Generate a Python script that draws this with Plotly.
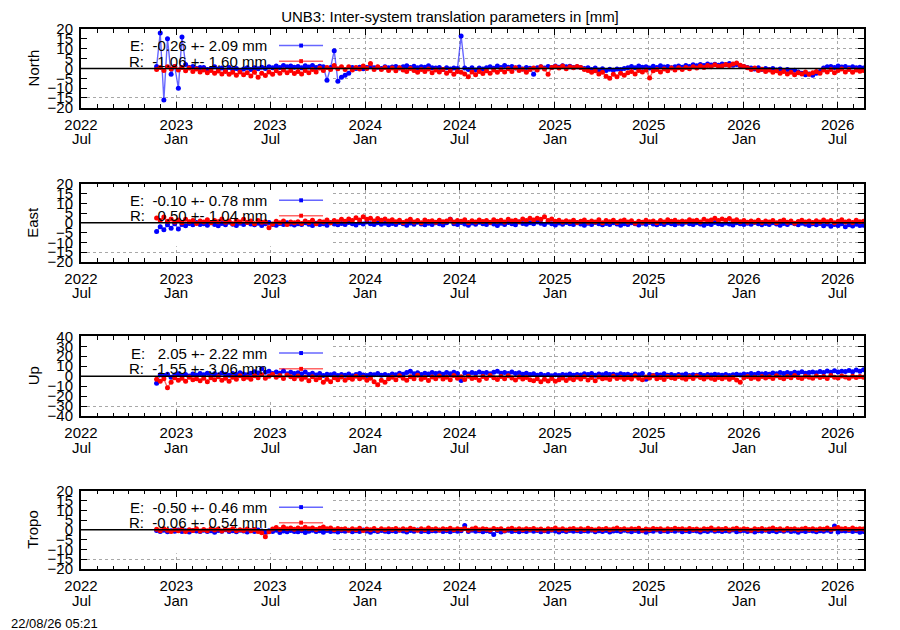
import pandas as pd
import plotly.graph_objects as go

# weekly samples (mm)
dates = pd.date_range("2022-11-24", periods=196, freq="7D")

north_e = [
    1, 18, -16, 15, -3, 1, -10, 16, 2, 0.5, 1, 0, 0.5,
    0.5, -0.5, 0, 0.8, -0.3, 0.2, -0.8, 0.5, -0.5, 0, -1, -0.3, 0.4,
    -0.5, 0.3, -0.2, 0.6, 0, 0.8, 0.3, 1.2, 0.5, 1.5, 0.8, 1.2, 0.6,
    1.0, 0.4, 1.3, 0.7, 1.5, 0.5, 1.1, 0.8, -6, 0.5, 9, -6.5, -4.5,
    -3.5, -2.5, 0.5, 0, 0.6, -0.2, 0.5, 0.8, 0.3, 0.6, 0, 0.9, 0.4,
    0.7, 1.0, 0.2, 0.8, 1.3, 0.5, 1.1, 0.3, 0.9, 0.6, 1.4, 0.4, 0.2,
    0.5, -0.5, 0.3, -0.3, 0.2, 0, 16.5, 0.2, -0.5, 0.4, -0.8, 0.2, -0.3,
    0.3, 0.8, 0.1, 1.2, 0.5, 1.5, 0.6, 1.0, 0.2, 0.7, -0.3, 0.5, 0.1,
    -3, 0.4, 0.8, 0.2, 1.0, 0.5, 1.2, 0.6, 1.4, 0.8, 1.1, 0.5, 0.9,
    0.5, 0, 0.3, -0.5, 0.2, -0.8, -0.2, -1.0, -0.4, -0.9, -0.3, -0.6, 0,
    0.4, 1.0, 0.3, 1.2, 0.6, 0.9, 0.2, 1.1, 0.5, 1.3, 0.7, 1.0, 0.4,
    0.8, 1.2, 0.6, 1.5, 1.0, 1.8, 1.3, 2.0, 1.5, 2.3, 1.7, 2.1, 1.6,
    2.2, 1.8, 2.5, 1.6, 2.0, 1.4, 1.0, 0.5, 0.2, -0.3, 0.3, -0.5, 0,
    -0.5, 0, -0.8, -0.3, -1.0, -0.6, -1.2, -0.9, -1.8, -2.5, -3.2, -2.8, -3.5,
    -2.5, -1.5, 0.2, 0.8, 1.0, 0.5, 1.2, 0.7, 1.0, 0.4, 0.9, 0.3, 0.6,
    0.2,
]
north_r = [
    -0.5, 0.5, -1, 0.8, -0.3, 1.0, -0.8, 0.5, -1.2, 0.2, -1.5, -0.3, -1.8,
    -0.8, -2.2, -1.0, -2.5, -1.3, -2.8, -1.5, -3.0, -2.0, -3.5, -1.8, -3.2, -2.2,
    -3.8, -2.0, -4.5, -2.5, -3.6, -1.8, -3.0, -1.2, -2.5, -0.8, -2.2, -1.0, -2.6,
    -1.5, -2.8, -1.0, -2.2, -0.5, -1.8, 0.2, -1.0, 0.5, -0.5, 1.5, -0.2, 0.8,
    -0.5, 0.8, -0.8, 0.5, -0.3, 1.2, 0, 2.5, -0.5, 0.8, -0.6, 0.5, -1.0,
    0.2, -1.2, 0.4, -0.8, -1.5, 0, -1.0, -2.0, -0.5, -1.5, -0.3, -2.2, -0.8,
    -1.8, -0.6, -2.5, -1.2, -3.0, -1.5, -2.0, -2.8, -4.2, -1.8, -3.2, -1.5, -2.6,
    -1.2, -2.4, -0.8, -2.0, -0.5, -1.8, -0.2, -1.5, 0.3, -1.0, -0.4, -2.0, -0.6,
    0.2, -0.8, 0.8, -0.3, -3.0, 0.5, 1.0, 0.2, 1.2, -0.2, 0.8, 0.3, 1.0,
    0.5, -0.5, -1.0, -2.0, -1.2, -2.8, -2.0, -4.0, -5.0, -3.0, -4.2, -2.5, -3.5,
    -2.2, -1.5, -2.8, -1.0, -1.8, -0.8, -4.8, -1.2, -0.5, -1.8, -0.3, -1.2, 0.2,
    -0.8, 0.3, -0.5, 0.5, -0.2, 0.8, 0.2, 1.2, 0.5, 1.5, 0.8, 1.8, 1.0,
    1.2, 2.0, 1.5, 2.2, 2.8, 1.6, 1.0, 0.3, -0.5, 0.2, -1.0, -0.4, -1.5,
    -0.8, -2.0, -1.2, -2.5, -1.6, -2.8, -2.0, -3.2, -2.2, -2.8, -1.8, -3.0, -2.2,
    -1.5, -2.5, -0.8, -1.8, -0.5, -2.2, -1.0, -0.3, -1.8, -0.6, -2.0, -0.8, -1.4,
    -1.0,
]

east_e = [
    -4.5, -2.0, -3.5, -1.0, -2.8, -0.5, -3.2, -0.8, -1.5, -0.3, -1.0, 0.2, -0.8,
    -0.5, -1.2, 0, -0.8, -1.5, -0.3, -1.0, 0.3, -0.7, -1.3, -0.2, -0.9, 0.2,
    -0.6, -1.0, -0.2, -1.4, -0.5, 0.2, -0.8, -1.2, -0.3, -0.9, 0.1, -0.6, -1.1,
    -0.4, -0.9, 0, -0.7, -1.3, -0.2, -0.8, -0.5, -1.2, 0.1, -0.6, -1.0, -0.3,
    -0.8, 0.2, -0.5, -1.1, 0, -0.6, 0.4, -0.4, -0.9, 0.1, -0.7, -0.2, -1.0,
    -0.3, -0.8, 0.2, -0.5, -1.2, -0.1, -0.7, 0.3, -0.6, -1.0, -0.2, -0.8, 0.1,
    -0.5, -1.1, 0, 1.8, -0.4, -0.9, 0.2, -0.6, -1.2, -0.1, -0.7, 0.3, -0.5,
    -0.9, 0, -0.6, -1.3, -0.2, -0.8, 0.2, -0.5, -1.0, 0.4, -0.3, -0.7, 0.1,
    -0.4, 0.5, -0.2, -0.8, 0.3, -0.5, -1.1, -0.1, -0.7, 0.2, -0.4, -0.9, 0,
    -0.6, -1.2, -0.2, -0.8, 0.2, -0.5, -1.0, -0.3, -0.9, 0.1, -0.6, -1.2, -0.4,
    -0.8, 0, -0.5, -1.1, -0.2, -0.7, 0.2, -0.6, -1.0, -0.3, -0.8, 0.1, -0.5,
    -1.0, -0.2, -0.7, 0.3, -0.4, -0.9, 0, -0.6, -1.2, -0.3, -0.8, 0.2, -0.5,
    -0.9, -0.1, -0.6, -1.1, 0.1, -0.5, -0.9, -0.2, -0.7, 0.2, -0.4, -1.0, -0.3,
    -0.8, 0, -0.6, -1.2, -0.3, -0.9, 0.1, -0.5, -1.0, -0.2, -0.7, -1.3, -0.4,
    -1.0, -0.3, -1.5, -0.6, -1.8, -0.8, -1.3, -0.5, -2.0, -1.0, -1.6, -0.7, -1.4,
    -1.2,
]
east_r = [
    2.5, 1.2, 3.0, 0.8, 2.0, 0.5, 1.5, 0, 1.8, 0.6, 1.2, -0.3, 1.0,
    0.4, 1.6, 0, 1.2, 0.6, 2.0, 0.3, 1.0, -0.4, 1.4, 0.5, 1.8, 0.2,
    0.9, -0.5, 1.2, 0.3, 0.6, -2.5, -0.6, 0.8, 0.1, 1.0, -0.8, 0.5, 0,
    0.6, -0.3, 1.0, 0.2, 1.3, -0.4, 0.8, 0.4, 1.5, 0, 1.2, 0.6, 1.8,
    0.8, 2.0, 1.2, 2.6, 1.5, 3.2, 1.8, 2.4, 1.0, 2.2, 1.4, 2.0, 0.9,
    1.6, 0.6, 1.3, 0.2, 1.0, 1.8, 0.5, 1.2, 0, 1.5, 0.7, 1.1, 0.3,
    1.4, 0.6, 1.0, 1.9, 0.4, 1.2, 0.8, 1.6, 0.2, 1.1, 0.5, 1.5, 0.7,
    1.2, 0.3, 1.6, 0.8, 1.3, 0.4, 1.8, 1.0, 1.4, 0.6, 2.0, 1.2, 2.4,
    1.5, 2.4, 1.8, 3.2, 1.2, 2.0, 0.8, 1.4, 0.4, 1.1, 0.6, 1.3, 0.2,
    0.8, 1.5, 0.3, 1.0, 0.5, 1.6, 0, 1.2, 0.6, 1.4, 0.2, 0.9, 1.5,
    0.4, 1.1, -0.2, 0.8, 0.3, 1.3, 0.6, 1.0, 0, 1.2, 0.5, 1.6, 0.8,
    1.3, 0.4, 1.0, 0.6, 1.6, 0.9, 1.4, 0.5, 1.8, 1.0, 1.5, 2.4, 1.2,
    2.0, 1.3, 2.2, 1.0, 1.6, 0.6, 1.2, 0.3, 1.0, 0.5, 1.4, 0.2, 0.9,
    0.5, 1.2, 0, 0.8, 1.5, 0.3, 1.0, -0.2, 0.7, 1.3, 0.4, 1.0, 0.2,
    1.1, 0.4, 1.5, 0.6, 1.2, 0, 0.8, 1.6, 0.5, 1.0, 0.2, 1.3, 0.6,
    0.8,
]

up_e = [
    -7.0, 1.5, 0, 2.0, -1.0, 1.2, 2.5, 0.5, 1.8, 0.2, 2.2, 1.0, 2.8,
    1.5, 3.0, 0.8, 2.4, 1.2, 3.2, 2.0, 1.0, 2.8, 1.6, 3.4, 2.2, 1.4,
    3.0, 4.5, 3.2, 7.5, 4.0, 5.0, 2.6, 4.2, 3.0, 5.2, 2.4, 4.0, 2.8,
    3.5, 2.2, 4.2, 1.8, 3.0, 1.2, 2.6, 0.8, 2.0, 1.4, 2.4, 0.6, 1.8,
    1.0, 2.2, 0.4, 1.6, 2.6, 1.2, 0.6, 2.0, 1.4, 2.8, 1.0, 1.8, 0.8,
    2.2, 1.4, 3.0, 2.0, 3.6, 5.0, 2.4, 3.4, 1.8, 3.0, 2.2, 3.8, 2.6,
    3.2, 2.0, 3.6, 2.4, 4.0, 2.8, -4.3, 3.4, 2.2, 3.8, 2.6, 4.2, 3.0,
    3.6, 2.4, 4.0, 5.0, 3.0, 3.8, 2.6, 4.2, 2.8, 3.4, 2.0, 3.0, 1.6,
    2.4, 1.0, 2.0, 0.6, 1.6, 0.4, 1.4, 0.8, 1.8, 1.2, 2.2, 1.0, 1.8,
    1.2, 2.4, 1.6, 2.8, 1.0, 2.2, 1.4, 2.6, 1.8, 2.0, 1.2, 2.4, 1.6,
    2.0, 1.0, 2.2, 1.4, 2.6, -3.0, 1.6, 0.8, 1.8, 1.2, 2.4, 1.0, 1.6,
    0.8, 1.8, 1.2, 2.2, 0.6, 1.4, 1.0, 2.0, 0.8, 1.6, 1.2, 2.0, 1.4,
    1.0, 1.8, 0.6, 1.4, 2.0, 1.2, 2.2, 1.6, 2.6, 1.8, 3.0, 2.2, 2.8,
    2.0, 3.2, 2.4, 3.6, 2.6, 3.8, 2.8, 4.0, 3.2, 4.4, 3.0, 3.8, 4.2,
    3.4, 4.6, 3.8, 5.2, 4.0, 5.6, 4.2, 5.0, 4.6, 5.8, 4.4, 6.2, 5.0,
    6.5,
]
up_r = [
    -3.0, -5.0, -2.5, -11.5, -6.0, -1.5, -4.0, -2.0, -5.0, -1.0, -3.5, -2.5, -4.5,
    -2.0, -5.5, -1.5, -3.5, -0.5, -4.0, -2.0, -5.0, -1.0, -3.0, 0.5, -2.5, -1.0,
    -3.0, 0.5, -1.5, 1.5, -2.0, 0, 2.0, -1.0, 0.8, -2.2, 1.2, -0.5, -2.5,
    0.2, -3.0, -1.0, -4.5, -0.5, -3.5, -1.5, -6.0, -3.0, -5.5, -1.5, -3.5, -0.8,
    -4.0, -1.5, -3.0, 0, -2.5, -1.0, -4.0, -2.0, -5.5, -8.5, -4.0, -6.0, -2.5,
    -1.0, -3.5, 0.5, -2.0, -4.0, -0.5, -2.5, 1.0, -3.0, -1.2, -4.2, -0.8, -2.6,
    0.2, -2.8, -1.0, -3.6, 0.8, -2.0, -0.6, -3.2, 0, -2.4, -1.2, -4.0, -0.4,
    -2.2, 0.6, -1.6, -3.4, -0.2, -2.6, 0.4, -1.8, -3.8, -0.8, -2.8, -1.2, -3.5,
    -4.5, -2.5, -5.5, -3.0, -4.8, -2.2, -5.0, -3.5, -1.8, -4.2, -2.0, -3.6, -1.0,
    -2.8, -0.6, -3.8, -1.4, -4.5, -0.8, -2.6, -1.8, -3.4, 0, -2.2, -1.0, -3.0,
    -1.4, -2.8, 0.2, -2.0, -3.6, -0.8, -1.8, 0.4, -2.6, -1.2, -3.2, -0.4, -1.6,
    -2.4, -0.2, -1.8, -3.0, -0.6, -2.2, 0.2, -1.4, -2.8, -0.8, -2.0, -3.4, -1.2,
    -2.6, -1.0, -3.0, -1.2, -3.8, -6.0, -1.6, -0.4, -2.4, -1.0, -2.8, -0.2, -1.8,
    -0.6, -2.2, 0.4, -1.4, -2.6, -0.2, -1.6, 0.6, -1.2, -2.4, 0, -1.0, -2.0,
    0.2, -1.4, -0.4, -2.2, 0.6, -1.0, -1.8, 0.3, -0.8, -2.0, 0, -1.2, -0.4,
    -1.0,
]

tropo_e = [
    -0.3, -0.8, -0.2, -1.0, -0.5, -0.7, -0.1, -0.9, -0.4, -1.1, -0.3, -0.6, -0.8,
    -0.2, -0.9, -0.5, -1.2, -0.3, -0.7, 0, -0.8, -0.5, -1.0, -0.2, -0.6, -1.1,
    -0.4, -0.8, -0.1, -0.6, -1.2, -0.5, -0.9, -0.2, -1.4, -0.6, -1.0, -0.3, -0.8,
    -1.0, -0.4, -1.3, -0.7, -0.2, -0.9, -0.5, -1.2, -0.3, -0.8, -0.6, -1.1, -0.4,
    -0.7, -0.2, -1.0, -0.5, -0.9, -0.1, -0.6, -1.2, -0.4, -0.8, -0.3, -0.7, -1.0,
    -0.4, -0.8, -0.2, -0.6, -1.1, -0.3, -0.7, -0.1, -0.9, -0.5, -1.0, -0.4, -0.6,
    -0.2, -0.8, -0.5, -1.0, -0.3, -0.7, -0.4, 2.2, -0.9, -0.2, -0.7, -0.4, -1.0,
    -0.5, -0.8, -2.4, -0.3, -1.1, -0.6, -0.2, -0.9, -0.4, -1.0, -0.5, -0.8, -0.2,
    -0.7, -0.3, -1.0, -0.5, -0.8, -0.2, -0.6, -1.1, -0.4, -0.9, -0.3, -0.7, -0.5,
    -0.9, -0.4, -0.7, -0.2, -1.0, -0.5, -0.8, -0.3, -1.1, -0.6, -0.4, -0.9, -0.2,
    -0.6, -1.0, -0.3, -0.8, -0.5, -1.2, -0.4, -0.7, -0.1, -0.9, -0.5, -0.8, -0.3,
    -0.7, -0.2, -1.0, -0.5, -0.8, -0.3, -0.6, -1.1, -0.4, -0.9, -0.2, -0.7, -0.5,
    -0.9, -0.4, -0.7, -0.1, -1.0, -0.6, -0.3, -0.8, -0.5, -1.1, -0.4, -0.7, -0.2,
    -0.8, -0.5, -1.0, -0.3, -0.7, -0.2, -0.9, -0.6, -1.2, -0.4, -0.8, -0.3, -0.6,
    -1.0, -0.4, -0.7, -0.2, -0.9, 2.0, -1.1, -0.5, -0.6, -0.3, -0.8, -0.5, -1.2,
    -0.8,
]
tropo_r = [
    0.3, -0.4, 0.6, -0.2, -0.8, 0.2, -0.5, 0.4, -0.9, 0, -0.3, 0.5, -0.6,
    0.2, -0.4, 0.6, -0.1, 0.4, -0.6, 0.3, -0.2, 0.5, -0.5, 0.1, -0.3, 0.4,
    -0.4, 0.2, -0.8, -1.5, -3.5, -1.0, 0.4, 1.2, 0.2, 1.5, 0.6, 1.0, 0.3,
    1.0, 0.4, 1.3, 0.6, 1.0, 0.2, 0.8, 1.4, 0.5, 0.9, 0.1, 0.7, 0.3,
    0.6, -0.2, 0.5, 0, 0.8, -0.3, 0.4, 0.1, 0.7, -0.2, 0.5, 0, 0.6,
    0.2, 0.7, -0.1, 0.5, 0, 0.8, 0.3, -0.2, 0.6, 0.1, 0.9, 0.2, 0.5,
    -0.1, 0.6, 0.2, 0.8, 0, 0.5, 0.2, 0.7, -0.2, 0.4, 0.9, 0.1, 0.6,
    0.3, -0.1, 0.7, 0.2, 0.5, -0.3, 0.4, 0.8, 0.1, 0.6, 0, 0.5, 0.2,
    0.7, 0, 0.4, -0.2, 0.6, 0.2, 0.9, 0.1, 0.5, -0.1, 0.4, 0.7, 0,
    0.5, 0.1, 0.8, 0.3, -0.1, 0.6, 0.2, 0.7, 0, 0.4, 0.9, 0.2, 0.5,
    0, 0.6, 0.3, 0.8, -0.2, 0.4, 0.1, 0.7, 0.3, 0.5, -0.1, 0.6, 0.2,
    0.8, 0.3, 0.5, 0, 0.7, 0.2, 0.4, -0.1, 0.6, 0.3, 0.9, 0.1, 0.5,
    0.2, 0.7, -0.1, 0.4, 0.8, 0.1, 0.5, 0.3, -0.2, 0.6, 0.2, 0.7, 0,
    0.4, 0.9, 0.2, 0.5, -0.1, 0.7, 0.3, 0.6, 0, 0.4, 0.8, 0.2, 0.5,
    0.1, 0.6, 0.3, 0.9, 0.2, 0.5, 1.2, 0.4, 0.7, 0.2, 0.9, 0.3, 0.6,
    0.4,
]

panel_names = ["North", "East", "Up", "Tropo"]
stats_e = ["E:  -0.26 +- 2.09 mm", "E:  -0.10 +- 0.78 mm",
           "E:   2.05 +- 2.22 mm", "E:  -0.50 +- 0.46 mm"]
stats_r = ["R:  -1.06 +- 1.60 mm", "R:   0.50 +- 1.04 mm",
           "R:  -1.55 +- 3.06 mm", "R:  -0.06 +- 0.54 mm"]
y_limits = [20, 20, 40, 20]
y_steps = [5, 5, 10, 5]

tick_dates = ["2022-07-01", "2023-01-01", "2023-07-01", "2024-01-01", "2024-07-01",
              "2025-01-01", "2025-07-01", "2026-01-01", "2026-07-01"]
tick_years = ["2022", "2023", "2023", "2024", "2024", "2025", "2025", "2026", "2026"]
tick_months = ["Jul", "Jan", "Jul", "Jan", "Jul", "Jan", "Jul", "Jan", "Jul"]
x_range = ["2022-07-01", "2026-08-21"]
key_right = "2023-10-28"   # right edge of the opaque key box

series_e = [north_e, east_e, up_e, tropo_e]
series_r = [north_r, east_r, up_r, tropo_r]
domains = [[0.854, 1.0], [0.569, 0.713], [0.283, 0.431], [0.0, 0.145]]

FONT = "Liberation Sans, Arial, sans-serif"
BLUE_LINE = "rgba(0,0,255,0.6)"
RED_LINE = "rgba(255,0,0,0.6)"

# the page keeps an 8px body margin, so the figure is 8px smaller than the window
W, H = 892, 622
ML, MR, MT, MB = 73, 36, 21, 61
PLOT_H = H - MT - MB

fig = go.Figure()
shapes = []
annotations = []

for k in range(4):
    sfx = "" if k == 0 else str(k + 1)
    xa, ya = "x" + sfx, "y" + sfx
    lim, step = y_limits[k], y_steps[k]
    panel_px = (domains[k][1] - domains[k][0]) * PLOT_H

    fig.add_trace(go.Scatter(x=dates, y=series_e[k], mode="lines+markers",
                             line=dict(color=BLUE_LINE, width=1.4),
                             marker=dict(color="#0000ff", size=5),
                             xaxis=xa, yaxis=ya, showlegend=False, hoverinfo="skip"))
    fig.add_trace(go.Scatter(x=dates, y=series_r[k], mode="lines+markers",
                             line=dict(color=RED_LINE, width=1.4),
                             marker=dict(color="#ff0000", size=5),
                             xaxis=xa, yaxis=ya, showlegend=False, hoverinfo="skip"))

    fig.update_layout(**{
        "xaxis" + sfx: dict(
            type="date", range=x_range, domain=[0, 1], anchor=ya,
            tickmode="array", tickvals=tick_dates, ticktext=tick_years,
            ticks="inside", ticklen=6, tickcolor="black", tickwidth=1,
            showline=True, linewidth=2, linecolor="black", mirror="allticks",
            showgrid=True, gridcolor="#a8a8a8", griddash="dot", gridwidth=1,
            zeroline=False, ticklabelstandoff=2,
            minor=dict(dtick="M1", tick0="2022-07-01", ticks="inside", ticklen=3.5,
                       tickcolor="black", showgrid=False),
            tickfont=dict(size=15)),
        "yaxis" + sfx: dict(
            range=[-lim, lim], domain=domains[k], anchor=xa,
            tickmode="array", tickvals=list(range(-lim, lim + 1, step)),
            ticks="inside", ticklen=6, tickcolor="black", tickwidth=1,
            showline=True, linewidth=2, linecolor="black", mirror="allticks",
            showgrid=True, gridcolor="#a8a8a8", griddash="dot", gridwidth=1,
            zeroline=False, ticklabelstandoff=3, tickfont=dict(size=15)),
    })

    # second line of the time labels (month), tighter than a <br> would give
    for td, mon in zip(tick_dates, tick_months):
        annotations.append(dict(text=mon, xref=xa, yref=ya + " domain",
                                x=td, y=-31 / panel_px, xanchor="center",
                                yanchor="middle", showarrow=False, font=dict(size=15)))

    # opaque key box: above the grid, below the data
    shapes.append(dict(type="rect", xref=xa, yref=ya,
                       x0=x_range[0], x1=key_right, y0=-0.6 * lim, y1=lim,
                       fillcolor="white", line=dict(width=0), layer="between"))
    shapes.append(dict(type="line", xref=xa + " domain", yref=ya, x0=0, x1=1,
                       y0=0, y1=0, line=dict(color="black", width=1.5), layer="above"))
    for yd, lc, mc in [(0.79, BLUE_LINE, "#0000ff"), (0.592, RED_LINE, "#ff0000")]:
        shapes.append(dict(type="line", xref=xa + " domain", yref=ya + " domain",
                           x0=0.2529, x1=0.3091, y0=yd, y1=yd,
                           line=dict(color=lc, width=1.5), layer="above"))
        shapes.append(dict(type="line", xref=xa + " domain", yref=ya + " domain",
                           x0=0.2787, x1=0.2835, y0=yd, y1=yd,
                           line=dict(color=mc, width=4), layer="above"))

    for yd, txt in [(0.79, stats_e[k]), (0.592, stats_r[k])]:
        annotations.append(dict(text=txt.replace(" ", "\u00a0"),
                                xref=xa + " domain", yref=ya + " domain",
                                x=0.240, y=yd, xanchor="right", yanchor="middle",
                                showarrow=False, font=dict(size=15)))
    annotations.append(dict(text=panel_names[k], xref=xa + " domain", yref=ya + " domain",
                            x=-0.0613, y=0.5, xanchor="center", yanchor="middle",
                            textangle=-90, showarrow=False, font=dict(size=15)))

annotations.append(dict(text="22/08/26 05:21", xref="paper", yref="paper",
                        x=-0.092, y=-0.1, xanchor="left", yanchor="middle",
                        showarrow=False, font=dict(size=13)))

fig.update_layout(
    width=W, height=H,
    margin=dict(l=ML, r=MR, t=MT, b=MB),
    paper_bgcolor="white", plot_bgcolor="white",
    font=dict(family=FONT, size=15, color="black"),
    title=dict(text="UNB3: Inter-system translation parameters in [mm]",
               x=(450 - 8) / W, xref="container", xanchor="center",
               y=1 - 9 / H, yref="container", yanchor="middle",
               font=dict(size=15)),
    shapes=shapes, annotations=annotations,
)

fig.write_html("out.html")
